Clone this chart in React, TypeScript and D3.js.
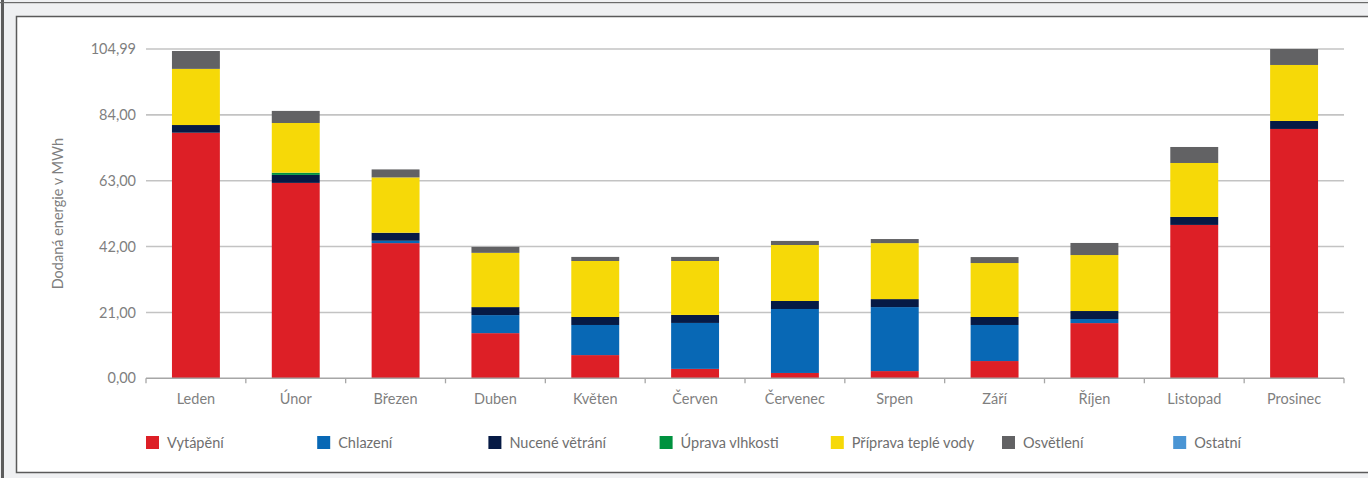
import React from "react";
import * as d3 from "d3";

const months = ["Leden", "Únor", "Březen", "Duben", "Květen", "Červen", "Červenec", "Srpen", "Září", "Říjen", "Listopad", "Prosinec"];
const seriesNames = ["Vytápění", "Chlazení", "Nucené větrání", "Úprava vlhkosti", "Příprava teplé vody", "Osvětlení", "Ostatní"];
const seriesColors = ["#dd1f26", "#0868b5", "#061a45", "#00923f", "#f6d908", "#626264", "#4a95d4"];

const vytapeni = [78.3, 62.3, 43.1, 14.4, 7.4, 3.0, 1.7, 2.3, 5.5, 17.6, 48.9, 79.5];
const chlazeni = [0, 0, 0.75, 5.75, 9.6, 14.65, 20.4, 20.4, 11.5, 1.3, 0, 0];
const vetrani = [2.45, 2.55, 2.55, 2.55, 2.55, 2.55, 2.55, 2.55, 2.55, 2.55, 2.55, 2.55];
const vlhkost = [0, 0.7, 0, 0, 0, 0, 0, 0, 0, 0, 0, 0];
const tepleVoda = [17.9, 15.85, 17.65, 17.3, 17.85, 17.2, 17.85, 17.85, 17.2, 17.85, 17.2, 17.85];
const osvetleni = [5.7, 3.85, 2.55, 1.9, 1.3, 1.3, 1.3, 1.3, 1.9, 3.85, 5.1, 5.1];
const ostatni = [0, 0, 0, 0, 0, 0, 0, 0, 0, 0, 0, 0];

const yTicks = [0, 21, 42, 63, 84, 104.99];
const yMax = 104.99;

const W = 1368;
const H = 478;
const plot = { left: 146, right: 1344, top: 49, bottom: 378.3 };

export default function App() {
  const seriesData = [vytapeni, chlazeni, vetrani, vlhkost, tepleVoda, osvetleni, ostatni];
  const table = months.map((m, i) => {
    const row: any = { month: m };
    seriesNames.forEach((s, j) => (row[s] = seriesData[j][i]));
    return row;
  });
  const stack = d3.stack<any>().keys(seriesNames);
  const stacked = stack(table);

  const x = d3.scaleBand().domain(months).range([plot.left, plot.right]).paddingInner(0.52).paddingOuter(0.26);
  const xb = d3.scaleBand().domain(months).range([plot.left, plot.right]);
  const y = d3.scaleLinear().domain([0, yMax]).range([plot.bottom, plot.top]);

  const fmt = (v: number) => v.toFixed(2).replace(".", ",");
  const font = "Lato, 'Open Sans', sans-serif";

  return (
    <svg width={W} height={H} style={{ position: "absolute", left: 0, top: 0 }} fontFamily={font}>
      <rect x={0} y={0} width={W} height={H} fill="#eff0f2" />
      <rect x={1} y={0} width={3} height={H} fill="#5c5c5c" />
      <rect x={0} y={2} width={W} height={1.2} fill="#6a6a6a" />
      <rect x={16.5} y={16.5} width={W} height={456} fill="#ffffff" stroke="#5a5a5a" strokeWidth={1.5} />

      {yTicks.map((t) => (
        <g key={t}>
          {t !== 0 && (
            <line x1={plot.left} x2={plot.right} y1={y(t)} y2={y(t)} stroke="#c3c3c3" strokeWidth={1.6} />
          )}
          <text x={136} y={y(t)} dy="0.35em" textAnchor="end" fontSize={14.5} fill="#7f7f7f">
            {fmt(t)}
          </text>
        </g>
      ))}

      {stacked.map((layer, j) => (
        <g key={layer.key} fill={seriesColors[j]}>
          {layer.map((d, i) => {
            const h = y(d[0]) - y(d[1]);
            if (h <= 0) return null;
            return <rect key={i} x={x(months[i])} width={x.bandwidth()} y={y(d[1])} height={h} />;
          })}
        </g>
      ))}

      <line x1={plot.left} x2={plot.right} y1={y(0)} y2={y(0)} stroke="#a6a6a6" strokeWidth={1.6} />
      {months.concat(["_end"]).map((m, i) => {
        const xx = plot.left + i * xb.bandwidth();
        return <line key={m} x1={xx} x2={xx} y1={y(0)} y2={y(0) + 5} stroke="#a6a6a6" strokeWidth={1.3} />;
      })}
      {months.map((m) => (
        <text key={m} x={(xb(m) as number) + xb.bandwidth() / 2} y={399} dy="0.35em" textAnchor="middle" fontSize={14.5} fill="#7f7f7f">
          {m}
        </text>
      ))}

      <text transform={`translate(58,${(plot.top + plot.bottom) / 2}) rotate(-90)`} textAnchor="middle" dy="0.35em" fontSize={14.5} fill="#7f7f7f">
        Dodaná energie v MWh
      </text>

      {seriesNames.map((s, j) => {
        const lx = 146 + j * 171.2;
        return (
          <g key={s}>
            <rect x={lx} y={436} width={13} height={13} fill={seriesColors[j]} />
            <text x={lx + 21} y={443} dy="0.35em" fontSize={14.5} fill="#6f6f6f">
              {s}
            </text>
          </g>
        );
      })}
    </svg>
  );
}
